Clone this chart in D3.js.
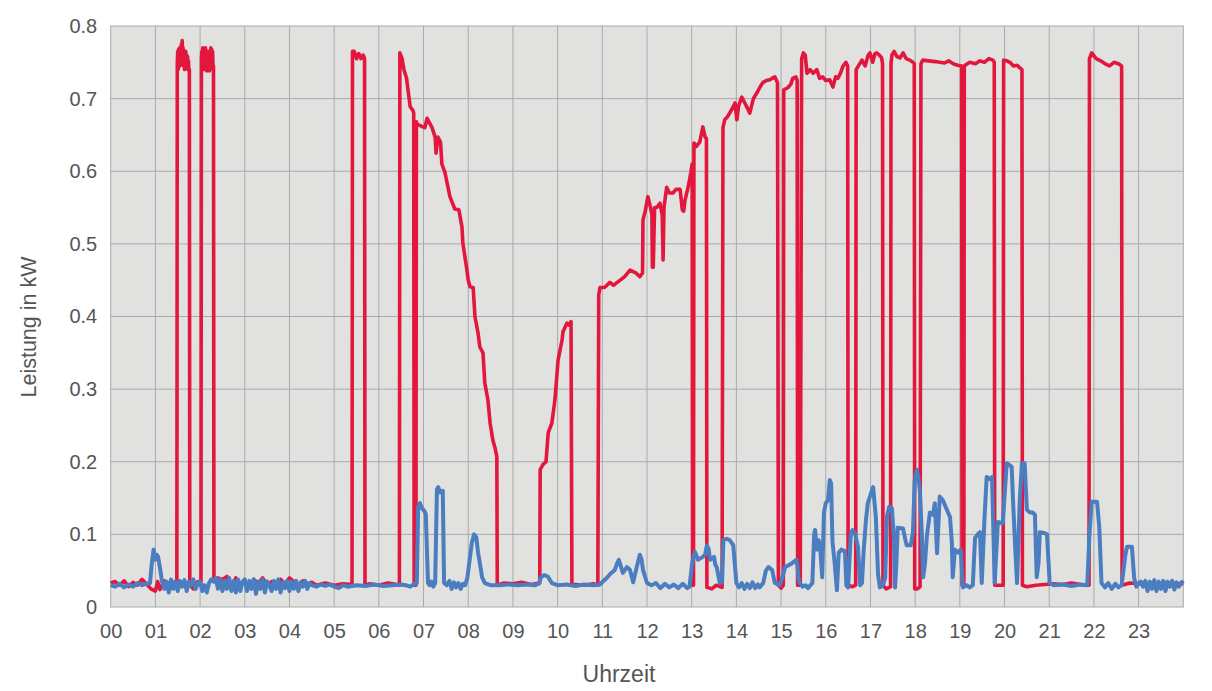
<!DOCTYPE html>
<html>
<head>
<meta charset="utf-8">
<script src="https://cdn.jsdelivr.net/npm/d3@7"></script>
<style>
  html, body { margin: 0; padding: 0; background: #ffffff; }
  svg { display: block; }
  text { font-family: "Liberation Sans", Arial, "DejaVu Sans", sans-serif; }
</style>
</head>
<body>
<svg id="chart" width="1212" height="691"></svg>
<script>
// ---------- DATA ----------
const xTickValues = d3.range(0, 24);
const xTickLabels = ["00","01","02","03","04","05","06","07","08","09","10","11","12","13","14","15","16","17","18","19","20","21","22","23"];
const yTickValues = [0, 0.1, 0.2, 0.3, 0.4, 0.5, 0.6, 0.7, 0.8];
const yTickLabels = ["0", "0.1", "0.2", "0.3", "0.4", "0.5", "0.6", "0.7", "0.8"];
const xTitle = "Uhrzeit";
const yTitle = "Leistung in kW";

// red series: [hour, kW]
const redSeries = [
[0,0.033],[0.1,0.035],[0.2,0.03],[0.3,0.036],[0.4,0.028],[0.5,0.034],[0.6,0.03],[0.7,0.038],[0.8,0.032],[0.9,0.025],[1.0,0.022],[1.05,0.035],[1.1,0.024],[1.2,0.036],[1.3,0.03],[1.4,0.034],[1.48,0.03],
[1.49,0.75],[1.5,0.765],[1.51,0.74],[1.52,0.768],[1.53,0.745],[1.54,0.77],[1.55,0.745],[1.56,0.765],[1.57,0.75],[1.58,0.775],[1.59,0.76],[1.6,0.78],[1.61,0.755],[1.62,0.77],[1.63,0.745],[1.64,0.765],[1.65,0.74],[1.66,0.762],[1.67,0.745],[1.68,0.765],[1.69,0.742],[1.7,0.76],[1.71,0.745],[1.72,0.758],[1.73,0.74],[1.74,0.752],[1.75,0.738],[1.76,0.74],[1.77,0.03],
[1.85,0.025],[1.95,0.035],[2.02,0.03],
[2.03,0.755],[2.04,0.765],[2.05,0.745],[2.06,0.77],[2.07,0.75],[2.08,0.768],[2.09,0.74],[2.1,0.765],[2.11,0.742],[2.12,0.77],[2.13,0.745],[2.14,0.765],[2.15,0.738],[2.16,0.762],[2.17,0.74],[2.18,0.765],[2.19,0.745],[2.2,0.755],[2.21,0.738],[2.22,0.76],[2.23,0.745],[2.24,0.77],[2.25,0.75],[2.26,0.768],[2.27,0.745],[2.28,0.765],[2.29,0.74],[2.3,0.745],[2.31,0.035],
[2.4,0.04],[2.5,0.038],[2.6,0.042],[2.7,0.025],[2.8,0.04],[2.9,0.03],[3.0,0.036],[3.1,0.028],[3.2,0.038],[3.3,0.032],[3.4,0.04],[3.5,0.03],[3.6,0.035],[3.7,0.028],[3.8,0.038],[3.9,0.032],[4.0,0.04],[4.1,0.035],[4.2,0.03],[4.3,0.036],[4.4,0.032],[4.5,0.034],[4.6,0.03],[4.8,0.033],[5.0,0.03],[5.2,0.032],[5.4,0.031],
[5.41,0.765],[5.45,0.765],[5.5,0.755],[5.55,0.762],[5.6,0.755],[5.65,0.76],[5.68,0.755],[5.69,0.03],
[5.8,0.032],[6.0,0.03],[6.2,0.033],[6.4,0.031],[6.46,0.03],
[6.47,0.763],[6.52,0.755],[6.56,0.74],[6.62,0.728],[6.7,0.689],[6.76,0.684],[6.78,0.68],[6.79,0.03],[6.83,0.03],[6.84,0.668],
[6.85,0.665],[6.95,0.662],[7.03,0.66],[7.08,0.673],[7.19,0.66],[7.26,0.647],[7.28,0.625],[7.32,0.647],[7.38,0.64],[7.41,0.61],[7.48,0.598],[7.59,0.565],[7.7,0.548],[7.79,0.547],[7.86,0.523],[7.88,0.501],[7.97,0.464],[8.0,0.45],[8.04,0.441],[8.11,0.44],[8.15,0.40],[8.22,0.377],[8.26,0.358],[8.33,0.35],[8.37,0.309],[8.44,0.285],[8.49,0.253],[8.55,0.23],[8.6,0.219],[8.64,0.207],[8.65,0.03],
[8.8,0.033],[9.0,0.032],[9.2,0.034],[9.4,0.031],[9.6,0.033],
[9.61,0.189],[9.67,0.196],[9.74,0.2],[9.79,0.24],[9.87,0.253],[9.94,0.285],[10.01,0.34],[10.1,0.368],[10.12,0.379],[10.21,0.391],[10.26,0.388],[10.3,0.393],[10.32,0.03],
[10.4,0.031],[10.6,0.03],[10.8,0.032],[10.9,0.03],
[10.92,0.43],[10.95,0.44],[11.05,0.44],[11.17,0.447],[11.25,0.443],[11.4,0.45],[11.5,0.455],[11.62,0.464],[11.75,0.46],[11.84,0.455],[11.9,0.46],[11.91,0.533],[11.96,0.545],[12.02,0.565],[12.08,0.55],[12.11,0.54],[12.12,0.468],[12.14,0.468],[12.17,0.55],[12.22,0.55],[12.29,0.556],[12.34,0.54],[12.36,0.478],[12.38,0.55],[12.44,0.578],[12.5,0.57],[12.58,0.57],[12.65,0.575],[12.74,0.575],[12.79,0.547],[12.82,0.545],[12.85,0.56],[12.92,0.578],[12.98,0.598],[13.01,0.61],[13.02,0.03],[13.04,0.03],[13.05,0.639],
[13.1,0.634],[13.18,0.64],[13.25,0.661],[13.3,0.647],[13.33,0.645],[13.34,0.027],[13.45,0.025],[13.55,0.03],[13.68,0.027],
[13.7,0.66],[13.74,0.671],[13.8,0.675],[13.85,0.68],[13.92,0.688],[13.97,0.694],[14.01,0.671],[14.05,0.69],[14.12,0.702],[14.18,0.695],[14.23,0.689],[14.3,0.68],[14.38,0.7],[14.46,0.708],[14.52,0.715],[14.59,0.722],[14.67,0.725],[14.75,0.726],[14.8,0.728],[14.86,0.73],[14.92,0.722],[14.94,0.03],[15.0,0.026],[15.05,0.03],
[15.06,0.712],[15.15,0.715],[15.22,0.72],[15.26,0.728],[15.33,0.73],[15.36,0.725],[15.37,0.03],[15.43,0.03],
[15.46,0.755],[15.5,0.763],[15.54,0.76],[15.58,0.735],[15.65,0.74],[15.72,0.735],[15.8,0.74],[15.86,0.728],[15.93,0.73],[16.0,0.725],[16.09,0.726],[16.13,0.72],[16.16,0.716],[16.22,0.73],[16.27,0.728],[16.33,0.735],[16.38,0.744],[16.45,0.75],[16.49,0.745],[16.5,0.03],[16.6,0.028],[16.67,0.03],
[16.68,0.74],[16.72,0.744],[16.81,0.753],[16.88,0.745],[16.95,0.76],[16.99,0.763],[17.05,0.75],[17.1,0.762],[17.14,0.763],[17.2,0.76],[17.25,0.756],[17.27,0.748],[17.28,0.03],[17.35,0.025],[17.45,0.028],
[17.46,0.748],[17.48,0.76],[17.53,0.765],[17.59,0.758],[17.66,0.756],[17.73,0.763],[17.8,0.755],[17.88,0.753],[17.95,0.75],[17.98,0.748],[17.99,0.025],[18.05,0.025],[18.11,0.028],
[18.13,0.748],[18.17,0.753],[18.3,0.752],[18.45,0.751],[18.55,0.75],[18.66,0.749],[18.75,0.752],[18.85,0.748],[18.95,0.746],[19.04,0.745],[19.05,0.03],[19.09,0.03],[19.1,0.745],
[19.12,0.746],[19.22,0.75],[19.35,0.748],[19.45,0.752],[19.55,0.75],[19.65,0.755],[19.74,0.753],[19.77,0.75],[19.78,0.03],[19.9,0.03],[19.97,0.03],
[19.98,0.753],[20.05,0.752],[20.12,0.75],[20.2,0.745],[20.28,0.746],[20.35,0.742],[20.39,0.74],[20.4,0.03],
[20.5,0.028],[20.7,0.03],[20.9,0.031],[21.1,0.032],[21.3,0.031],[21.5,0.033],[21.7,0.031],[21.89,0.03],
[21.9,0.755],[21.95,0.763],[22.05,0.755],[22.15,0.752],[22.25,0.748],[22.35,0.745],[22.45,0.75],[22.55,0.748],[22.62,0.745],[22.63,0.03],
[22.8,0.033],[23.0,0.032],[23.3,0.03],[23.6,0.033],[24,0.032]
];

// blue series: [hour, kW]
const blueSeries = [
[0,0.03],[0.1,0.028],[0.2,0.032],[0.3,0.027],[0.4,0.031],[0.5,0.028],[0.6,0.033],[0.7,0.03],[0.8,0.032],[0.88,0.033],[0.92,0.06],[0.96,0.079],[0.99,0.065],[1.03,0.072],[1.06,0.069],[1.1,0.055],[1.15,0.035],[1.2,0.025],[1.25,0.035],[1.3,0.02],[1.35,0.038],[1.4,0.025],[1.45,0.035],[1.5,0.022],[1.55,0.036],[1.6,0.028],[1.65,0.037],[1.7,0.022],[1.75,0.035],[1.8,0.03],[1.85,0.038],[1.9,0.025],[1.95,0.032],[2.0,0.035],[2.05,0.022],[2.1,0.03],[2.15,0.02],[2.2,0.033],[2.25,0.038],[2.3,0.035],[2.35,0.04],[2.4,0.025],[2.45,0.038],[2.5,0.022],[2.55,0.036],[2.6,0.025],[2.65,0.04],[2.7,0.022],[2.75,0.036],[2.8,0.02],[2.85,0.038],[2.9,0.022],[2.95,0.035],[3.0,0.038],[3.05,0.022],[3.1,0.036],[3.15,0.025],[3.2,0.038],[3.25,0.018],[3.3,0.035],[3.35,0.025],[3.4,0.038],[3.45,0.02],[3.5,0.035],[3.55,0.03],[3.6,0.022],[3.65,0.036],[3.7,0.025],[3.75,0.038],[3.8,0.02],[3.85,0.034],[3.9,0.026],[3.95,0.036],[4.0,0.022],[4.05,0.035],[4.1,0.025],[4.15,0.036],[4.2,0.022],[4.25,0.034],[4.3,0.028],[4.35,0.036],[4.4,0.025],[4.45,0.033],[4.5,0.03],[4.6,0.028],[4.7,0.031],[4.8,0.029],[4.9,0.031],[5.0,0.028],[5.1,0.026],[5.2,0.03],[5.3,0.028],[5.5,0.03],[5.7,0.029],[5.9,0.031],[6.1,0.029],[6.3,0.03],[6.5,0.031],[6.6,0.03],[6.7,0.028],[6.8,0.032],[6.85,0.033],
[6.88,0.138],[6.92,0.143],[6.96,0.136],[7.02,0.132],[7.05,0.128],[7.1,0.033],[7.14,0.03],[7.18,0.035],[7.22,0.028],[7.26,0.033],[7.3,0.162],[7.33,0.165],[7.37,0.158],[7.43,0.16],[7.46,0.033],
[7.52,0.03],[7.58,0.036],[7.63,0.025],[7.68,0.034],[7.73,0.027],[7.78,0.033],[7.83,0.025],[7.88,0.032],[7.93,0.03],
[7.98,0.04],[8.04,0.069],[8.08,0.088],[8.13,0.1],[8.18,0.096],[8.22,0.075],[8.26,0.06],[8.31,0.041],[8.37,0.033],
[8.5,0.03],[8.7,0.03],[8.9,0.031],[9.1,0.03],[9.3,0.031],[9.5,0.03],[9.58,0.032],
[9.63,0.041],[9.7,0.044],[9.78,0.042],[9.87,0.033],[10.0,0.03],[10.2,0.031],[10.4,0.029],[10.6,0.031],[10.8,0.03],[10.95,0.031],
[11.01,0.035],[11.1,0.04],[11.17,0.045],[11.28,0.051],[11.33,0.06],[11.37,0.065],[11.42,0.055],[11.46,0.047],[11.55,0.055],[11.62,0.051],[11.69,0.034],[11.77,0.055],[11.84,0.072],[11.88,0.065],[11.91,0.051],[12.0,0.033],
[12.1,0.03],[12.2,0.033],[12.3,0.026],[12.4,0.032],[12.5,0.027],[12.6,0.031],[12.7,0.026],[12.8,0.032],[12.9,0.026],
[12.95,0.028],[13.01,0.06],[13.07,0.076],[13.14,0.065],[13.25,0.069],[13.3,0.072],[13.34,0.085],[13.38,0.08],[13.41,0.065],[13.5,0.069],[13.53,0.058],[13.56,0.055],[13.63,0.033],[13.68,0.035],[13.71,0.092],[13.78,0.094],[13.85,0.092],[13.93,0.085],[14.0,0.033],
[14.06,0.027],[14.12,0.033],[14.18,0.025],[14.24,0.032],[14.3,0.026],[14.36,0.034],[14.42,0.026],[14.48,0.031],[14.52,0.027],
[14.6,0.033],[14.66,0.05],[14.72,0.055],[14.8,0.051],[14.86,0.033],[14.97,0.03],[15.05,0.045],[15.09,0.055],[15.18,0.058],[15.24,0.06],[15.3,0.063],[15.35,0.065],[15.4,0.035],[15.48,0.028],[15.55,0.03],[15.6,0.026],[15.7,0.033],[15.74,0.1],[15.76,0.106],[15.8,0.079],[15.84,0.092],[15.87,0.085],[15.92,0.041],[15.96,0.13],[16.0,0.143],[16.05,0.147],[16.09,0.175],[16.12,0.17],[16.15,0.09],[16.2,0.06],[16.25,0.023],[16.29,0.075],[16.35,0.079],[16.43,0.077],[16.46,0.03],[16.5,0.027],[16.56,0.1],[16.6,0.106],[16.65,0.102],[16.72,0.083],[16.77,0.03],[16.81,0.033],[16.85,0.079],[16.9,0.12],[16.94,0.143],[17.02,0.158],[17.06,0.165],[17.12,0.124],[17.17,0.045],[17.21,0.027],[17.28,0.03],
[17.33,0.04],[17.37,0.125],[17.42,0.138],[17.48,0.136],[17.53,0.09],[17.55,0.027],[17.58,0.06],[17.61,0.109],[17.73,0.108],[17.79,0.09],[17.81,0.085],[17.9,0.085],[17.95,0.102],[17.99,0.175],[18.04,0.189],[18.08,0.175],[18.11,0.157],[18.15,0.1],[18.18,0.041],[18.22,0.06],[18.26,0.096],[18.33,0.13],[18.4,0.127],[18.44,0.143],[18.49,0.074],[18.55,0.152],[18.62,0.147],[18.71,0.134],[18.78,0.124],[18.82,0.09],[18.84,0.041],[18.89,0.079],[18.96,0.075],[19.02,0.079],[19.07,0.027],[19.15,0.03],[19.22,0.027],[19.29,0.03],[19.34,0.095],[19.4,0.1],[19.45,0.103],[19.49,0.033],[19.55,0.12],[19.6,0.179],[19.68,0.176],[19.72,0.179],[19.78,0.033],[19.85,0.117],[19.96,0.115],[20.05,0.198],[20.12,0.195],[20.16,0.193],[20.19,0.147],[20.24,0.08],[20.28,0.033],[20.34,0.147],[20.39,0.198],[20.45,0.198],[20.5,0.134],[20.57,0.13],[20.63,0.13],[20.68,0.127],[20.72,0.041],[20.76,0.06],[20.79,0.103],[20.88,0.102],[20.95,0.1],[21.01,0.033],
[21.1,0.03],[21.3,0.031],[21.5,0.029],[21.7,0.031],[21.85,0.03],[21.9,0.1],[21.95,0.145],[22.07,0.145],[22.12,0.11],[22.17,0.033],[22.25,0.027],[22.32,0.033],[22.4,0.025],[22.48,0.032],[22.55,0.027],[22.62,0.03],[22.7,0.07],[22.74,0.083],[22.85,0.083],[22.9,0.04],[22.95,0.028],
[23.0,0.033],[23.05,0.035],[23.1,0.028],[23.15,0.036],[23.2,0.022],[23.25,0.035],[23.3,0.025],[23.35,0.037],[23.4,0.022],[23.45,0.035],[23.5,0.025],[23.55,0.036],[23.6,0.022],[23.65,0.035],[23.7,0.028],[23.75,0.036],[23.8,0.024],[23.85,0.034],[23.9,0.028],[23.95,0.033],[24.0,0.036]
];

// ---------- CHART ----------
const W = 1212, H = 691;
const margin = { left: 110.7, top: 26, right: 28.7, bottom: 84 };
const svg = d3.select("#chart");

const x = d3.scaleLinear().domain([0, 24]).range([margin.left, W - margin.right]);
const y = d3.scaleLinear().domain([0, 0.8]).range([H - margin.bottom, margin.top]);

const textColor = "#555555";
const gridColor = "#a9a9a9";

// plot background
svg.append("rect")
  .attr("x", x(0)).attr("y", y(0.8))
  .attr("width", x(24) - x(0)).attr("height", y(0) - y(0.8))
  .attr("fill", "#e1e2e0");

// grid lines
svg.append("g")
  .selectAll("line")
  .data(d3.range(1, 24))
  .join("line")
  .attr("x1", d => x(d)).attr("x2", d => x(d))
  .attr("y1", y(0)).attr("y2", y(0.8))
  .attr("stroke", gridColor).attr("stroke-width", 1);

svg.append("g")
  .selectAll("line")
  .data(yTickValues.slice(1, -1))
  .join("line")
  .attr("x1", x(0)).attr("x2", x(24))
  .attr("y1", d => y(d)).attr("y2", d => y(d))
  .attr("stroke", gridColor).attr("stroke-width", 1);

// plot border
svg.append("rect")
  .attr("x", x(0)).attr("y", y(0.8))
  .attr("width", x(24) - x(0)).attr("height", y(0) - y(0.8))
  .attr("fill", "none").attr("stroke", gridColor).attr("stroke-width", 1);

// lines
const line = d3.line().x(d => x(d[0])).y(d => y(d[1]));
const plotG = svg.append("g");
plotG.append("path").datum(redSeries)
  .attr("d", line).attr("fill", "none")
  .attr("stroke", "#e3173d").attr("stroke-width", 3.6)
  .attr("stroke-linejoin", "round");
plotG.append("path").datum(blueSeries)
  .attr("d", line).attr("fill", "none")
  .attr("stroke", "#4a7ec0").attr("stroke-width", 4)
  .attr("stroke-linejoin", "round");

// axes (labels only)
const yAxis = d3.axisLeft(y).tickValues(yTickValues)
  .tickFormat((d, i) => yTickLabels[i]).tickSize(0).tickPadding(13.5);
const gy = svg.append("g").attr("transform", `translate(${x(0)},0)`).call(yAxis);
gy.select(".domain").remove();
gy.selectAll("text").attr("fill", textColor).style("font-size", "20px");

const xAxis = d3.axisBottom(x).tickValues(xTickValues)
  .tickFormat((d, i) => xTickLabels[i]).tickSize(0).tickPadding(16.5);
const gx = svg.append("g").attr("transform", `translate(0,${y(0)})`).call(xAxis);
gx.select(".domain").remove();
gx.selectAll("text").attr("fill", textColor).style("font-size", "20px");

// titles
svg.append("text")
  .attr("x", 619).attr("y", 681.5)
  .attr("text-anchor", "middle")
  .attr("fill", textColor).style("font-size", "23px")
  .text(xTitle);

svg.append("text")
  .attr("transform", "translate(36,327) rotate(-90)")
  .attr("text-anchor", "middle")
  .attr("fill", textColor).style("font-size", "21.5px")
  .text(yTitle);
</script>
</body>
</html>
